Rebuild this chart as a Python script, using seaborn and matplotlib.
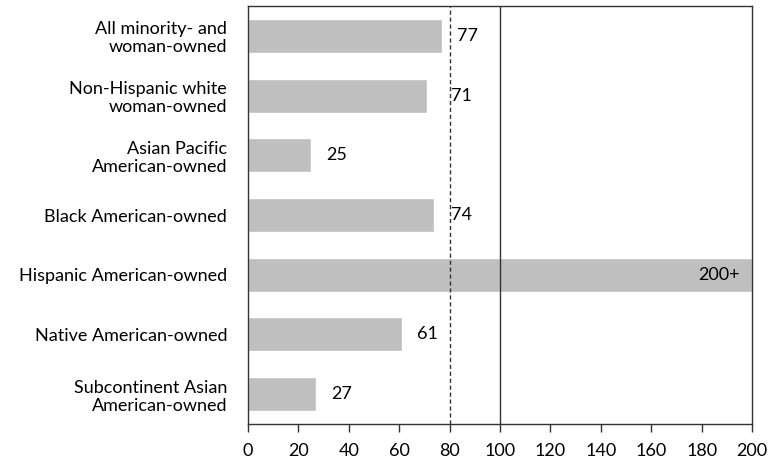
import matplotlib
matplotlib.use("Agg")
import matplotlib.pyplot as plt
import seaborn as sns
import pandas as pd

categories = [
    "All minority- and\nwoman-owned",
    "Non-Hispanic white\nwoman-owned",
    "Asian Pacific\nAmerican-owned",
    "Black American-owned",
    "Hispanic American-owned",
    "Native American-owned",
    "Subcontinent Asian\nAmerican-owned",
]
values = [77, 71, 25, 74, 200, 61, 27]
labels = ["77", "71", "25", "74", "200+", "61", "27"]
xticks = [0, 20, 40, 60, 80, 100, 120, 140, 160, 180, 200]
benchmark_dashed = 80
benchmark_solid = 100

df = pd.DataFrame({"group": categories, "value": values})

sns.set_theme(style="white")
plt.rcParams["font.family"] = ["Lato", "DejaVu Sans"]
FS = 13

fig = plt.figure(figsize=(7.73, 4.62), dpi=100)
ax = fig.add_axes([248 / 773, 38 / 462, 504 / 773, 418 / 462])

sns.barplot(data=df, x="value", y="group", orient="h", color="#BFBFBF",
            width=0.57, saturation=1, ax=ax)

ax.set_xlim(0, 200)
ax.set_ylim(6.5, -0.5)
ax.set_xticks(xticks)
ax.set_xticklabels([str(t) for t in xticks])
ax.set_xlabel("")
ax.set_ylabel("")

ax.axvline(benchmark_dashed, color="#333333", lw=1, ls=(0, (3, 2)), zorder=3)
ax.axvline(benchmark_solid, color="#333333", lw=1, zorder=3)

# value labels: just past the bar end, nudged clear of the dashed benchmark
gap, label_w = 6, 7
for i, (v, lab) in enumerate(zip(values, labels)):
    if v >= 200:
        ax.annotate(lab, (v, i), xytext=(-9, 0), textcoords="offset points",
                    ha="right", va="center", fontsize=FS, color="#000000")
        continue
    x = v + gap
    if x < benchmark_dashed + 1 and x + label_w > benchmark_dashed:
        x = benchmark_dashed + 0.6
    ax.text(x, i, lab, ha="left", va="center", fontsize=FS, color="#000000")

for s in ax.spines.values():
    s.set_visible(True)
    s.set_color("#333333")
    s.set_linewidth(1)

ax.tick_params(axis="x", which="both", bottom=True, length=6, width=1,
               color="#333333", labelsize=FS, labelcolor="#000000", pad=8)
ax.tick_params(axis="y", left=False, labelsize=FS, labelcolor="#000000", pad=9)
for t in ax.get_yticklabels():
    t.set_horizontalalignment("right")
    t.set_multialignment("right")
    t.set_linespacing(1.15)

fig.savefig("out.png", dpi=100)
